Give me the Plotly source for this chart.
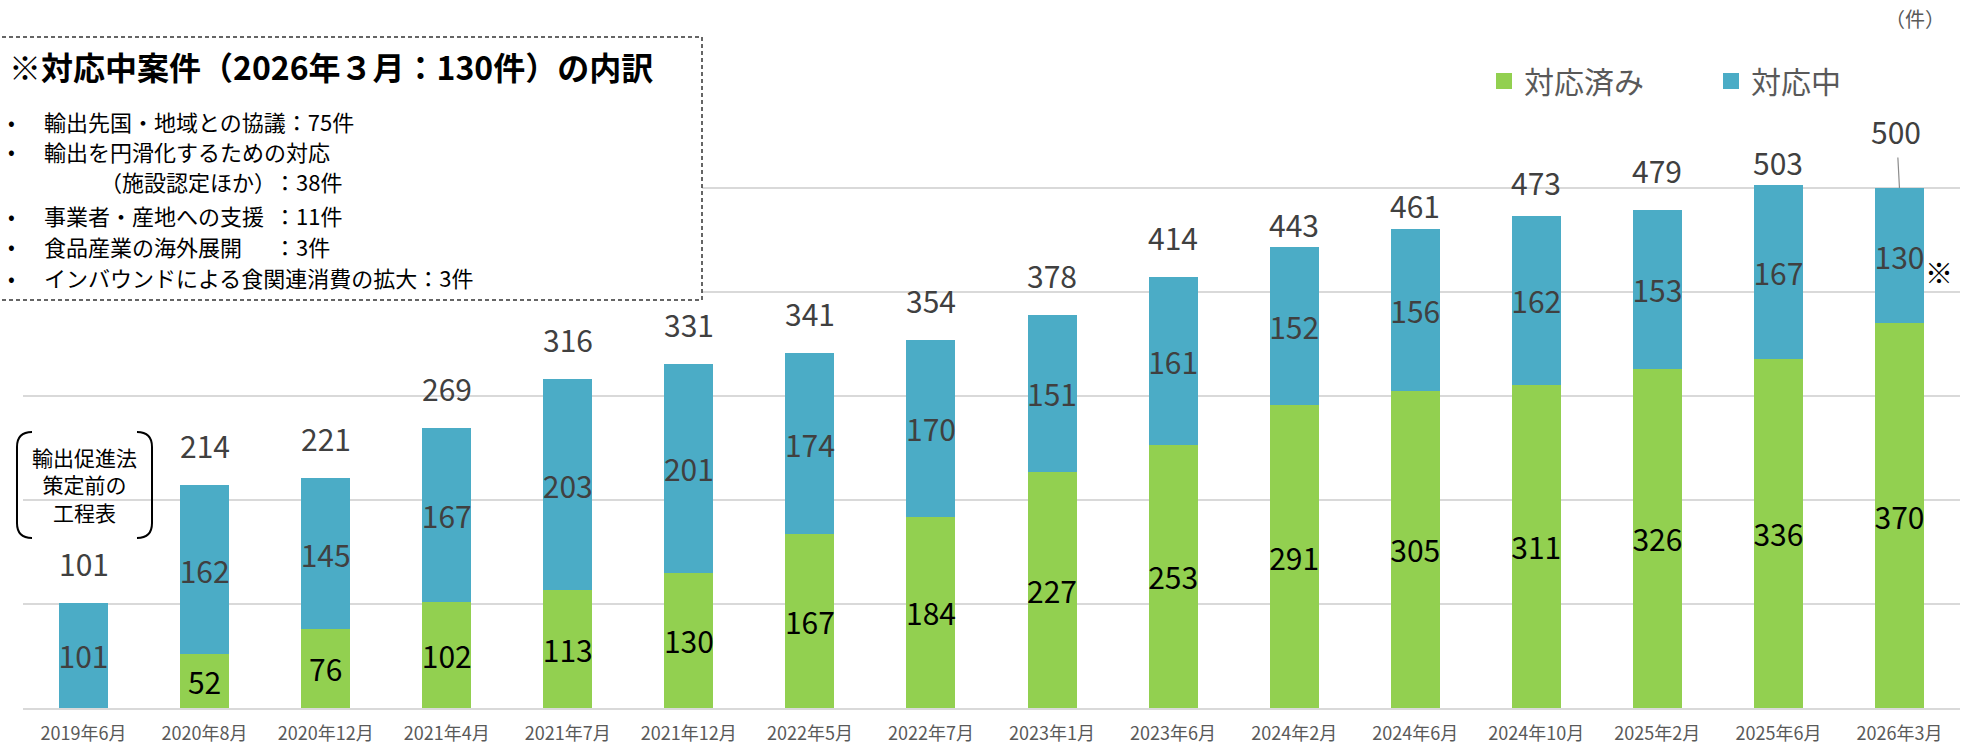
import plotly.graph_objects as go

# ---------------- data ----------------
categories = ["2019年6月", "2020年8月", "2020年12月", "2021年4月", "2021年7月", "2021年12月",
              "2022年5月", "2022年7月", "2023年1月", "2023年6月", "2024年2月", "2024年6月",
              "2024年10月", "2025年2月", "2025年6月", "2026年3月"]
done_values = [0, 52, 76, 102, 113, 130, 167, 184, 227, 253, 291, 305, 311, 326, 336, 370]
ongoing_values = [101, 162, 145, 167, 203, 201, 174, 170, 151, 161, 152, 156, 162, 153, 167, 130]
series_names = ["対応済み", "対応中"]

box_title = "※対応中案件（2026年３月：130件）の内訳"
box_lines = [
    ("輸出先国・地域との協議：75件", None),
    ("輸出を円滑化するための対応", None),
    ("（施設認定ほか）", "：38件"),
    ("事業者・産地への支援", "：11件"),
    ("食品産業の海外展開", "：3件"),
    ("インバウンドによる食関連消費の拡大：3件", None),
]
note_lines = ["輸出促進法", "策定前の", "工程表"]
unit_label = "（件）"

totals = [a + b for a, b in zip(done_values, ongoing_values)]

# ---------------- style ----------------
GREEN = "#92D050"
BLUE = "#4BACC6"
FONT = "Noto Sans CJK JP, Noto Sans, sans-serif"
W, H = 1977, 749
L, R, T, B = 23, 1960, 84, 708

def px(x):
    return (x - L) / (R - L)

def py(y):
    return (B - y) / (B - T)

# pixel offsets of total labels above bar tops (label placement as in source)
total_label_shift = [40] * len(categories)
total_label_shift[10] = 23
total_label_shift[11] = 24
total_label_shift[12] = 34
total_label_shift[14] = 23

fig = go.Figure()
fig.add_trace(go.Bar(
    x=categories, y=done_values, name=series_names[0], marker_color=GREEN,
    marker_line_width=0, showlegend=False,
    text=[str(v) if v else "" for v in done_values], textposition="inside",
    insidetextanchor="middle", textangle=0, constraintext="none",
    insidetextfont=dict(family=FONT, size=30, color="#000000"),
))
fig.add_trace(go.Bar(
    x=categories, y=ongoing_values, name=series_names[1], marker_color=BLUE,
    marker_line_width=0, showlegend=False,
    text=[str(v) for v in ongoing_values], textposition="inside",
    insidetextanchor="middle", textangle=0, constraintext="none",
    insidetextfont=dict(family=FONT, size=30, color="#404040"),
))
# legend entries
for name, col in zip(series_names, [GREEN, BLUE]):
    fig.add_trace(go.Scatter(x=[None], y=[None], mode="markers", name=name,
                             marker=dict(symbol="square", size=16, color=col)))

annotations = []
# totals
for i, (c, t) in enumerate(zip(categories, totals)):
    if i == len(categories) - 1:
        annotations.append(dict(x=c, y=t, xref="x", yref="y", text=str(t),
                                showarrow=True, arrowhead=0, arrowwidth=1.2,
                                arrowcolor="#8c8c8c", ax=-3, ay=-57, standoff=0,
                                borderpad=4,
                                font=dict(family=FONT, size=30, color="#404040")))
    else:
        annotations.append(dict(x=c, y=t, xref="x", yref="y", text=str(t),
                                showarrow=False, yanchor="middle",
                                yshift=total_label_shift[i],
                                font=dict(family=FONT, size=30, color="#404040")))
# ※ next to last bar
annotations.append(dict(x=categories[-1], y=done_values[-1] + ongoing_values[-1] / 2,
                        xref="x", yref="y", text="※", showarrow=False,
                        xshift=40, yshift=-16,
                        font=dict(family=FONT, size=28, color="#000000")))
# unit
annotations.append(dict(x=px(1915), y=py(19), xref="paper", yref="paper", text=unit_label,
                        showarrow=False, xanchor="center", yanchor="middle",
                        font=dict(family=FONT, size=20, color="#595959")))
# box title
annotations.append(dict(x=px(7), y=py(66), xref="paper", yref="paper",
                        text="<b>" + box_title + "</b>", showarrow=False,
                        xanchor="left", yanchor="middle",
                        font=dict(family=FONT, size=32, color="#000000")))
line_y = [121, 151, 181, 215, 246, 277]
for (txt, tail), yy in zip(box_lines, line_y):
    if txt.startswith("（"):
        xstart = 98
        bullet = False
    else:
        xstart = 42
        bullet = True
    if bullet:
        annotations.append(dict(x=px(6), y=py(yy), xref="paper", yref="paper", text="•",
                                showarrow=False, xanchor="left", yanchor="middle",
                                font=dict(family=FONT, size=20, color="#000000")))
    annotations.append(dict(x=px(xstart), y=py(yy), xref="paper", yref="paper", text=txt,
                            showarrow=False, xanchor="left", yanchor="middle",
                            font=dict(family=FONT, size=22, color="#000000")))
    if tail:
        annotations.append(dict(x=px(272), y=py(yy), xref="paper", yref="paper", text=tail,
                                showarrow=False, xanchor="left", yanchor="middle",
                                font=dict(family=FONT, size=22, color="#000000")))
# bracket note
annotations.append(dict(x=px(84), y=py(485), xref="paper", yref="paper",
                        text="<br>".join(note_lines),
                        showarrow=False, xanchor="center", yanchor="middle", align="center",
                        font=dict(family=FONT, size=21, color="#000000")))

def P(x, y):
    return f"{px(x):.5f},{py(y):.5f}"

left_br = f"M{P(32,432)} Q{P(17,432)} {P(17,447)} L{P(17,523)} Q{P(17,538)} {P(32,538)}"
right_br = f"M{P(137,432)} Q{P(152,432)} {P(152,447)} L{P(152,523)} Q{P(152,538)} {P(137,538)}"

shapes = [
    dict(type="rect", xref="paper", yref="paper", x0=px(-5), x1=px(702), y0=py(300), y1=py(37),
         line=dict(color="#333333", width=1.5, dash="4px,3px"), fillcolor="white", layer="above"),
    dict(type="path", xref="paper", yref="paper", path=left_br,
         line=dict(color="#000000", width=2), layer="above"),
    dict(type="path", xref="paper", yref="paper", path=right_br,
         line=dict(color="#000000", width=2), layer="above"),
]

fig.update_layout(
    width=W, height=H,
    margin=dict(l=L, r=W - R, t=T, b=H - B, pad=0, autoexpand=False),
    barmode="stack", bargap=0.595,
    plot_bgcolor="white", paper_bgcolor="white",
    font=dict(family=FONT, color="#595959"),
    uniformtext=dict(minsize=28, mode="show"),
    xaxis=dict(type="category", showgrid=False, showline=True, linecolor="#d9d9d9",
               linewidth=2, ticks="", ticklabelstandoff=8, automargin=False,
               tickfont=dict(family=FONT, size=18, color="#595959"), fixedrange=True),
    yaxis=dict(range=[0, 600], dtick=100, showgrid=True, gridcolor="#d9d9d9", gridwidth=1.5,
               zeroline=False, showticklabels=False, automargin=False, fixedrange=True),
    legend=dict(orientation="h", x=px(1484), xanchor="left", y=py(81), yanchor="middle",
                font=dict(family=FONT, size=30, color="#595959"), bgcolor="rgba(0,0,0,0)",
                traceorder="normal", entrywidthmode="pixels", entrywidth=182,
                itemclick=False, itemdoubleclick=False),
    annotations=annotations,
    shapes=shapes,
)

fig.write_html("out.html", config={"displayModeBar": False},
               post_script="document.body.style.margin='0';document.body.style.overflow='hidden';")
